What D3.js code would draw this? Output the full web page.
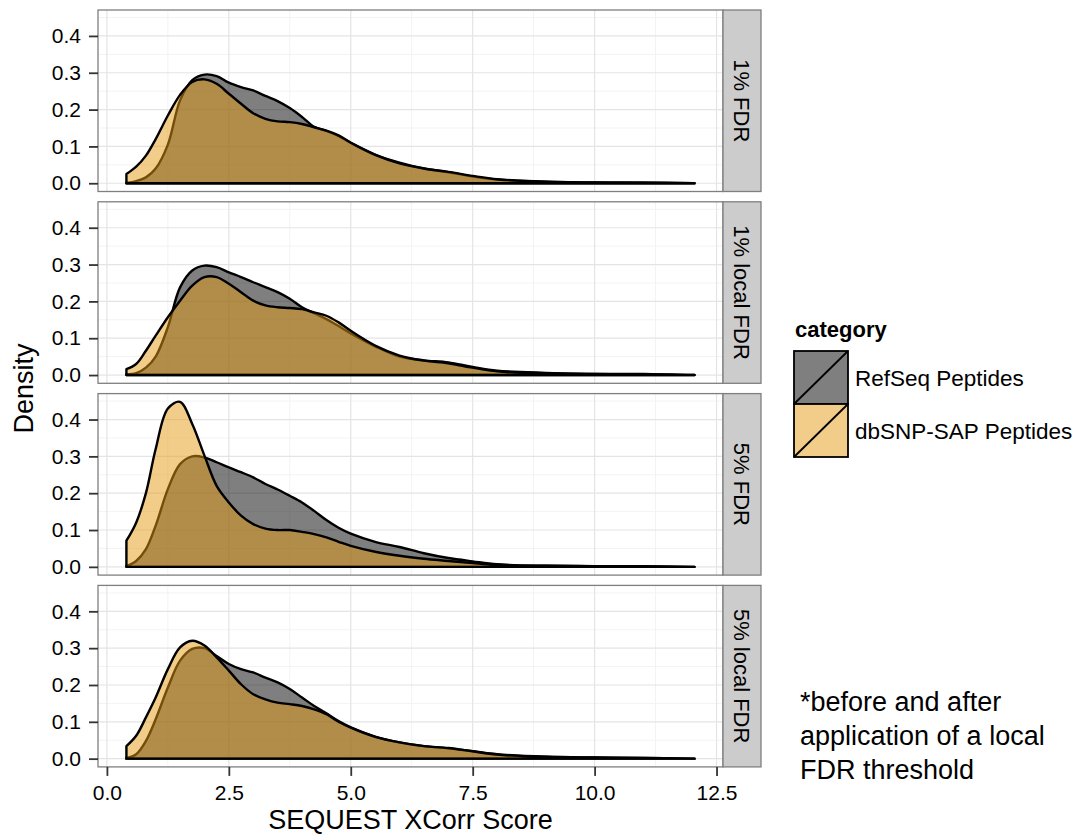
<!DOCTYPE html>
<html>
<head>
<meta charset="utf-8">
<script src="https://cdn.jsdelivr.net/npm/d3@7"></script>
<style>
  body { margin: 0; background: #fff; }
  svg { font-family: "Liberation Sans", Arial, Helvetica, sans-serif; }
</style>
</head>
<body>
<div id="chart"></div>
<script>
// facet labels, categories and ticks
const panels = ["1% FDR", "1% local FDR", "5% FDR", "5% local FDR"];
const categories = ["RefSeq Peptides", "dbSNP-SAP Peptides"];
const xTicks = [0, 2.5, 5, 7.5, 10, 12.5];
const yTicks = [0, 0.1, 0.2, 0.3, 0.4];
const note = ["*before and after", "application of a local", "FDR threshold"];

// XCorr score grid the densities were read at
const xs = [0.4, 0.6, 0.8, 1.0, 1.25, 1.5, 1.75, 2.0, 2.25, 2.5, 2.75, 3.0, 3.25, 3.5, 3.75,
  4.0, 4.25, 4.5, 4.75, 5.0, 5.5, 6.0, 6.5, 7.0, 7.5, 8.0, 9.0, 10.0, 11.0, 12.05];

// density values, one array per panel and category
const refseq1 = [0.001, 0.006, 0.016, 0.04, 0.105, 0.225, 0.28, 0.295, 0.291, 0.273, 0.261, 0.252, 0.237, 0.223, 0.204,
  0.18, 0.153, 0.142, 0.128, 0.11, 0.078, 0.056, 0.04, 0.03, 0.018, 0.01, 0.004, 0.002, 0.002, 0];
const dbsnp1 = [0.025, 0.045, 0.075, 0.12, 0.184, 0.24, 0.275, 0.282, 0.27, 0.243, 0.216, 0.19, 0.175, 0.168, 0.166,
  0.161, 0.152, 0.143, 0.13, 0.11, 0.077, 0.054, 0.04, 0.031, 0.02, 0.011, 0.004, 0.002, 0.001, 0];
const refseq2 = [0.002, 0.005, 0.02, 0.05, 0.13, 0.238, 0.284, 0.297, 0.293, 0.279, 0.266, 0.252, 0.239, 0.225, 0.207,
  0.184, 0.168, 0.152, 0.133, 0.113, 0.078, 0.05, 0.04, 0.034, 0.022, 0.012, 0.006, 0.003, 0.003, 0];
const dbsnp2 = [0.016, 0.03, 0.066, 0.107, 0.157, 0.202, 0.243, 0.266, 0.266, 0.248, 0.225, 0.202, 0.189, 0.184, 0.182,
  0.179, 0.17, 0.161, 0.143, 0.12, 0.08, 0.053, 0.039, 0.032, 0.02, 0.01, 0.005, 0.003, 0.002, 0];
const refseq3 = [0.002, 0.016, 0.048, 0.112, 0.211, 0.279, 0.3, 0.297, 0.284, 0.27, 0.257, 0.243, 0.225, 0.21, 0.193,
  0.175, 0.152, 0.127, 0.106, 0.09, 0.068, 0.054, 0.037, 0.024, 0.015, 0.007, 0.003, 0.002, 0.002, 0];
const dbsnp3 = [0.071, 0.12, 0.2, 0.32, 0.43, 0.448, 0.388, 0.302, 0.22, 0.175, 0.139, 0.116, 0.104, 0.1, 0.1,
  0.095, 0.089, 0.08, 0.068, 0.057, 0.041, 0.03, 0.022, 0.016, 0.01, 0.005, 0.003, 0.002, 0.001, 0];
const refseq4 = [0.002, 0.012, 0.048, 0.107, 0.193, 0.266, 0.298, 0.3, 0.279, 0.257, 0.243, 0.234, 0.22, 0.207, 0.189,
  0.166, 0.143, 0.123, 0.102, 0.085, 0.06, 0.044, 0.034, 0.028, 0.02, 0.012, 0.005, 0.003, 0.002, 0];
const dbsnp4 = [0.034, 0.062, 0.112, 0.166, 0.243, 0.302, 0.32, 0.307, 0.275, 0.239, 0.202, 0.175, 0.161, 0.152, 0.148,
  0.143, 0.134, 0.121, 0.1, 0.084, 0.059, 0.044, 0.034, 0.029, 0.02, 0.011, 0.005, 0.003, 0.002, 0];

const seriesByPanel = [[refseq1, dbsnp1], [refseq2, dbsnp2], [refseq3, dbsnp3], [refseq4, dbsnp4]];
const fills = ["#000000", "#e69a14"];

const width = 1078, height = 836;
const left = 98, right = 723, stripW = 38;
const top0 = 10, panelH = 181.5, gap = 10.3;

const svg = d3.select("#chart").append("svg")
  .attr("width", width)
  .attr("height", height);

// ggplot style 5% expansion
const xMin = d3.min(xs), xMax = d3.max(xs);
const xPad = (xMax - xMin) * 0.05;
const x = d3.scaleLinear().domain([xMin - xPad, xMax + xPad]).range([left, right]);
const yMax = d3.max(seriesByPanel.flat(2));
const yPad = yMax * 0.05;

const xMinor = [1.25, 3.75, 6.25, 8.75, 11.25];
const yMinor = [0.05, 0.15, 0.25, 0.35, 0.45];

let lastY = null;

panels.forEach((name, i) => {
  const top = top0 + i * (panelH + gap);
  const y = d3.scaleLinear().domain([-yPad, yMax + yPad]).range([top + panelH, top]);
  lastY = top + panelH;
  const g = svg.append("g");

  g.append("rect")
    .attr("x", left).attr("y", top)
    .attr("width", right - left).attr("height", panelH)
    .attr("fill", "#fff");

  // grid
  g.selectAll(".xminor").data(xMinor).enter().append("line")
    .attr("x1", d => x(d)).attr("x2", d => x(d))
    .attr("y1", top).attr("y2", top + panelH)
    .attr("stroke", "#f3f3f3").attr("stroke-width", 1);
  g.selectAll(".yminor").data(yMinor).enter().append("line")
    .attr("x1", left).attr("x2", right)
    .attr("y1", d => y(d)).attr("y2", d => y(d))
    .attr("stroke", "#f3f3f3").attr("stroke-width", 1);
  g.selectAll(".xmajor").data(xTicks.filter(t => x(t) < right)).enter().append("line")
    .attr("x1", d => x(d)).attr("x2", d => x(d))
    .attr("y1", top).attr("y2", top + panelH)
    .attr("stroke", "#e4e4e4").attr("stroke-width", 1.2);
  g.selectAll(".ymajor").data(yTicks).enter().append("line")
    .attr("x1", left).attr("x2", right)
    .attr("y1", d => y(d)).attr("y2", d => y(d))
    .attr("stroke", "#e4e4e4").attr("stroke-width", 1.2);

  // densities: RefSeq first, dbSNP on top
  const area = d3.area()
    .x(d => x(d[0]))
    .y0(y(0))
    .y1(d => y(Math.max(0, d[1])))
    .curve(d3.curveCatmullRom.alpha(0.5));

  seriesByPanel[i].forEach((vals, k) => {
    g.append("path")
      .datum(xs.map((v, j) => [v, vals[j]]))
      .attr("d", area)
      .attr("fill", fills[k])
      .attr("fill-opacity", 0.5)
      .attr("stroke", "#000")
      .attr("stroke-width", 2.4)
      .attr("stroke-linejoin", "round");
  });

  g.append("rect")
    .attr("x", left).attr("y", top)
    .attr("width", right - left).attr("height", panelH)
    .attr("fill", "none").attr("stroke", "#7f7f7f").attr("stroke-width", 1.3);

  // strip
  g.append("rect")
    .attr("x", right).attr("y", top)
    .attr("width", stripW).attr("height", panelH)
    .attr("fill", "#cccccc").attr("stroke", "#7f7f7f").attr("stroke-width", 1.3);
  g.append("text")
    .attr("transform", `translate(${right + stripW / 2},${top + panelH / 2}) rotate(90)`)
    .attr("text-anchor", "middle")
    .attr("dy", "0.35em")
    .attr("font-size", 22)
    .text(name);

  // y axis
  const ya = svg.append("g")
    .attr("transform", `translate(${left},0)`)
    .call(d3.axisLeft(y).tickValues(yTicks).tickFormat(d3.format(".1f")).tickSize(9).tickPadding(8));
  ya.select(".domain").remove();
  ya.selectAll(".tick line").attr("stroke", "#333").attr("stroke-width", 1.8);
  ya.selectAll(".tick text").attr("font-size", 21).attr("fill", "#000")
    .attr("font-family", "'Liberation Sans', Arial, sans-serif");
});

// x axis under the last panel
const xa = svg.append("g")
  .attr("transform", `translate(0,${lastY})`)
  .call(d3.axisBottom(x).tickValues(xTicks).tickFormat(d3.format(".1f")).tickSize(9).tickPadding(9));
xa.select(".domain").remove();
xa.selectAll(".tick line").attr("stroke", "#333").attr("stroke-width", 1.8);
xa.selectAll(".tick text").attr("font-size", 21).attr("fill", "#000")
  .attr("font-family", "'Liberation Sans', Arial, sans-serif");

// axis titles
svg.append("text")
  .attr("x", (left + right) / 2).attr("y", 829)
  .attr("text-anchor", "middle")
  .attr("font-size", 27)
  .text("SEQUEST XCorr Score");

svg.append("text")
  .attr("transform", `translate(33,${(top0 + lastY) / 2}) rotate(-90)`)
  .attr("text-anchor", "middle")
  .attr("font-size", 27)
  .text("Density");

// legend
const lg = svg.append("g").attr("transform", "translate(794,351)");
lg.append("text")
  .attr("x", 1).attr("y", -14)
  .attr("font-size", 22).attr("font-weight", "bold")
  .text("category");
const keyW = 54, keyH = 53;
categories.forEach((c, k) => {
  const ky = k * keyH;
  lg.append("rect")
    .attr("x", 0).attr("y", ky).attr("width", keyW).attr("height", keyH)
    .attr("fill", "#fff");
  lg.append("rect")
    .attr("x", 0).attr("y", ky).attr("width", keyW).attr("height", keyH)
    .attr("fill", fills[k]).attr("fill-opacity", 0.5)
    .attr("stroke", "#000").attr("stroke-width", 1.8);
  lg.append("line")
    .attr("x1", 0).attr("y1", ky + keyH)
    .attr("x2", keyW).attr("y2", ky)
    .attr("stroke", "#000").attr("stroke-width", 1.8);
  lg.append("text")
    .attr("x", keyW + 7).attr("y", ky + keyH / 2 + 8)
    .attr("font-size", 22.5)
    .text(c);
});

// side note
svg.append("g").selectAll("text").data(note).enter().append("text")
  .attr("x", 800)
  .attr("y", (d, i) => 711 + i * 34)
  .attr("font-size", 27)
  .text(d => d);
</script>
</body>
</html>
